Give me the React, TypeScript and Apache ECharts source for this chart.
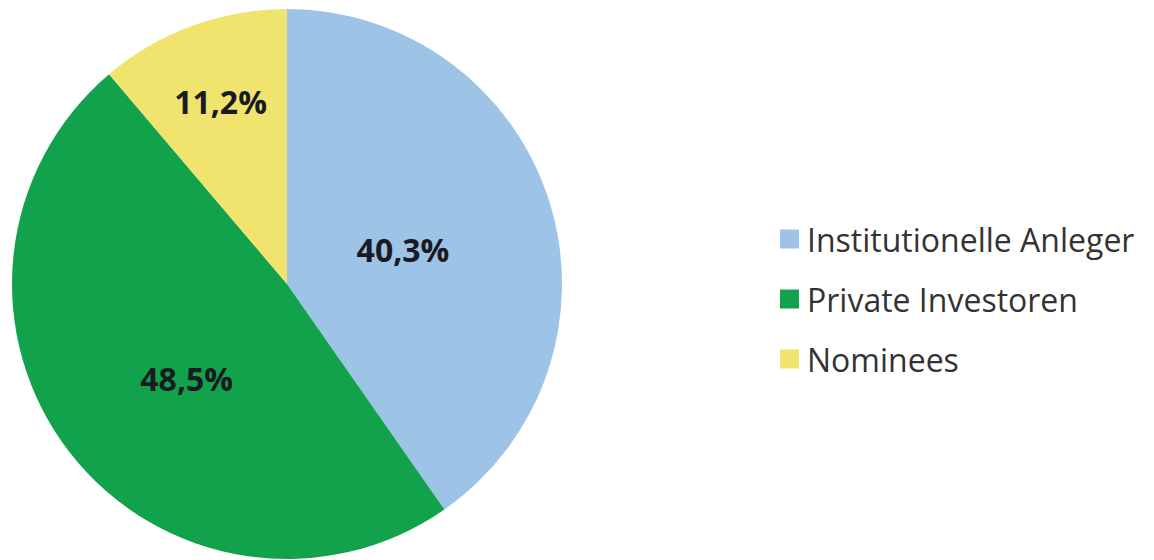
import React, { useEffect, useRef } from "react";
import * as echarts from "echarts";

const categories = ["Institutionelle Anleger", "Private Investoren", "Nominees"];
const values = [40.3, 48.5, 11.2];
const labels = ["40,3%", "48,5%", "11,2%"];
const colors = ["#9dc3e6", "#12a24b", "#f0e46e"];
const labelOffsets = [[-18, 8], [11, 9], [-18, -51]];

export default function App() {
  const ref = useRef<HTMLDivElement>(null);
  useEffect(() => {
    document.body.style.margin = "0";
    const chart = echarts.init(ref.current!, null, { renderer: "svg" });
    chart.setOption({
      animation: false,
      backgroundColor: "#ffffff",
      legend: {
        orient: "vertical",
        left: 775,
        top: 216,
        icon: "rect",
        itemWidth: 19,
        itemHeight: 19,
        itemGap: 24,
        selectedMode: false,
        textStyle: {
          fontFamily: "Open Sans",
          fontSize: 32,
          color: "#333333",
          lineHeight: 36,
          padding: [0, 0, 0, 3],
        },
        data: categories,
      },
      series: [
        {
          type: "pie",
          center: [287, 284],
          radius: 275,
          startAngle: 90,
          clockwise: true,
          avoidLabelOverlap: false,
          itemStyle: { borderWidth: 0 },
          label: {
            show: true,
            position: "inside",
            fontFamily: "Open Sans",
            fontWeight: "bold",
            fontSize: 32,
            color: "#1a1a22",
            formatter: (p: any) => labels[p.dataIndex],
          },
          labelLine: { show: false },
          labelLayout: (p: any) => ({
            dx: labelOffsets[p.dataIndex][0],
            dy: labelOffsets[p.dataIndex][1],
          }),
          emphasis: { disabled: true },
          data: categories.map((c, i) => ({
            name: c,
            value: values[i],
            itemStyle: { color: colors[i] },
          })),
        },
      ],
    });
    return () => chart.dispose();
  }, []);
  return <div ref={ref} style={{ width: 1154, height: 560 }} />;
}
